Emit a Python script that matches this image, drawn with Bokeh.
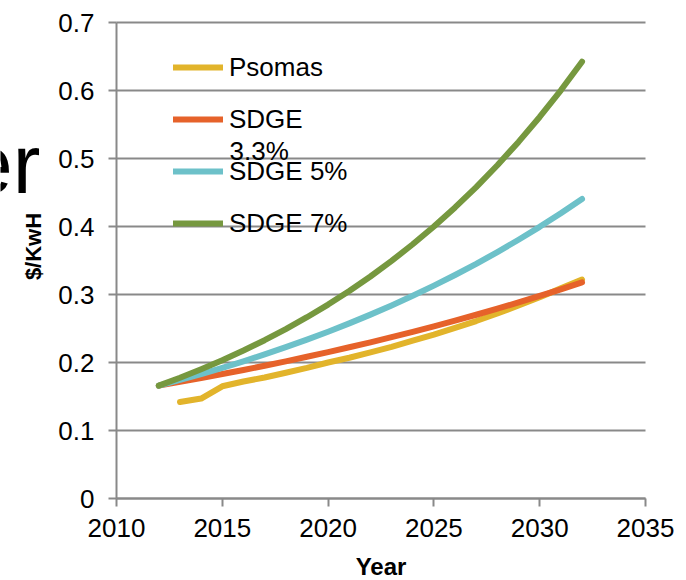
import math
from bokeh.plotting import figure
from bokeh.models import Range1d, FixedTicker, CustomJSTickFormatter, Legend, LegendItem, Label
from bokeh.embed import file_html
from bokeh.resources import INLINE

# ---- data ----
years_sdge = [2012, 2013, 2014, 2015, 2016, 2017, 2018, 2019, 2020, 2021, 2022,
              2023, 2024, 2025, 2026, 2027, 2028, 2029, 2030, 2031, 2032]
sdge_33 = [0.166, 0.1715, 0.1771, 0.1830, 0.1890, 0.1953, 0.2017, 0.2084, 0.2153, 0.2224, 0.2297,
           0.2373, 0.2451, 0.2532, 0.2616, 0.2702, 0.2791, 0.2883, 0.2979, 0.3077, 0.3178]
sdge_5 = [0.166, 0.1743, 0.1830, 0.1922, 0.2018, 0.2119, 0.2225, 0.2336, 0.2453, 0.2575, 0.2704,
          0.2839, 0.2981, 0.3130, 0.3287, 0.3451, 0.3624, 0.3805, 0.3995, 0.4195, 0.4405]
sdge_7 = [0.166, 0.1776, 0.1901, 0.2034, 0.2176, 0.2328, 0.2491, 0.2666, 0.2852, 0.3052, 0.3265,
          0.3494, 0.3739, 0.4000, 0.4280, 0.4580, 0.4901, 0.5244, 0.5611, 0.6003, 0.6424]
years_psomas = [2013, 2014, 2015, 2016, 2017, 2018, 2019, 2020, 2021, 2022,
                2023, 2024, 2025, 2026, 2027, 2028, 2029, 2030, 2031, 2032]
psomas = [0.142, 0.147, 0.165, 0.172, 0.178, 0.185, 0.192, 0.200, 0.207, 0.215,
          0.223, 0.232, 0.241, 0.251, 0.261, 0.272, 0.284, 0.296, 0.309, 0.322]

x_ticks = [2010, 2015, 2020, 2025, 2030, 2035]
y_ticks = [0, 0.1, 0.2, 0.3, 0.4, 0.5, 0.6, 0.7]
series_names = ["Psomas", "SDGE", "SDGE 5%", "SDGE 7%"]
series_name_wrap = "3.3%"
series_colors = ["#E2B42B", "#E6622A", "#6DC1C9", "#76983F"]
x_title = "Year"
y_title = "$/KwH"
backdrop_text = "er"

FONT = "Liberation Sans"
GRAY = "#898989"

# ---- layout geometry (pixels) ----
W, H = 686, 580
AX_LEFT, AX_RIGHT = 116, 645      # pixel of first / last x tick
AX_TOP, AX_BOTTOM = 22, 498       # pixel of top / bottom y tick
xmin, xmax = x_ticks[0], x_ticks[-1]
ymin, ymax = y_ticks[0], y_ticks[-1]
ppx = (AX_RIGHT - AX_LEFT) / (xmax - xmin)
ppy = (AX_BOTTOM - AX_TOP) / (ymax - ymin)

def px_to_x(px):
    return xmin + (px - AX_LEFT) / ppx

def px_to_y(py):
    return ymin + (AX_BOTTOM - py) / ppy

# the frame covers the whole canvas so that texts outside the axes are not clipped
p = figure(width=W, height=H, output_backend="svg", toolbar_location=None,
           x_range=Range1d(px_to_x(0), px_to_x(W)), y_range=Range1d(px_to_y(H), px_to_y(0)),
           min_border_left=0, min_border_right=0, min_border_top=0, min_border_bottom=0)
p.outline_line_color = None
p.background_fill_color = "white"
p.border_fill_color = "white"
p.xgrid.visible = False
p.ygrid.ticker = FixedTicker(ticks=y_ticks)
try:
    p.ygrid.cross_bounds = (xmin, xmax)
    p.ygrid.grid_line_color = GRAY
    p.ygrid.grid_line_width = 2
except AttributeError:
    p.ygrid.visible = False
    p.segment(x0=[xmin] * len(y_ticks), y0=y_ticks, x1=[xmax] * len(y_ticks), y1=y_ticks,
              line_color=GRAY, line_width=2, level="underlay")

xa = p.xaxis[0]
xa.ticker = FixedTicker(ticks=x_ticks)
xa.fixed_location = ymin
xa.bounds = (xmin, xmax)
ya = p.yaxis[0]
ya.ticker = FixedTicker(ticks=y_ticks)
ya.formatter = CustomJSTickFormatter(code="return tick == 0 ? '0' : tick.toFixed(1);")
ya.fixed_location = xmin
ya.bounds = (ymin, ymax)

for ax in (xa, ya):
    ax.axis_line_color = GRAY
    ax.axis_line_width = 2
    ax.major_tick_line_color = GRAY
    ax.major_tick_line_width = 2
    ax.major_tick_out = 8
    ax.major_tick_in = 0
    ax.minor_tick_line_color = None
    ax.major_label_text_font = FONT
    ax.major_label_text_font_size = "26px"
    ax.major_label_text_color = "black"
    # blank axis label with a negative standoff: the axis takes no border space
    ax.axis_label = " "
    ax.axis_label_text_font_size = "1px"
    ax.axis_label_standoff = -160

xa.major_label_standoff = 12
ya.major_label_standoff = 14

xs = [years_psomas, years_sdge, years_sdge, years_sdge]
ys = [psomas, sdge_33, sdge_5, sdge_7]
renderers = []
for x, y, c in zip(xs, ys, series_colors):
    r = p.line(x, y, line_color=c, line_width=6, line_cap="round", line_join="round")
    renderers.append(r)

legend = Legend(items=[LegendItem(label=n, renderers=[r]) for n, r in zip(series_names, renderers)],
                location=(173, H - 249), orientation="vertical",
                background_fill_alpha=0, border_line_color=None,
                padding=0, margin=0, spacing=0,
                glyph_width=50, glyph_height=52, label_height=52, label_standoff=6,
                label_text_font=FONT, label_text_font_size="26px", label_text_color="black")
p.add_layout(legend)

# second line of the wrapped legend entry "SDGE 3.3%"
p.add_layout(Label(x=px_to_x(229), y=px_to_y(150), text=series_name_wrap, text_font=FONT,
                   text_font_size="26px", text_color="black", text_align="left", text_baseline="middle"))

# axis titles
p.add_layout(Label(x=px_to_x(33), y=px_to_y(246), text=y_title, angle=math.pi / 2,
                   text_font=FONT, text_font_size="22px", text_font_style="bold", text_color="black",
                   text_align="center", text_baseline="middle"))
p.add_layout(Label(x=(xmin + xmax) / 2, y=px_to_y(566), text=x_title,
                   text_font=FONT, text_font_size="24px", text_font_style="bold", text_color="black",
                   text_align="center", text_baseline="middle"))

# fragment of a large slide title behind the chart (cut by the left edge)
p.add_layout(Label(x=px_to_x(-34), y=px_to_y(164), text=backdrop_text, text_font=FONT,
                   text_font_size="83px", text_color="black", text_align="left", text_baseline="middle"))

open("out.html", "w").write(file_html(p, INLINE))
